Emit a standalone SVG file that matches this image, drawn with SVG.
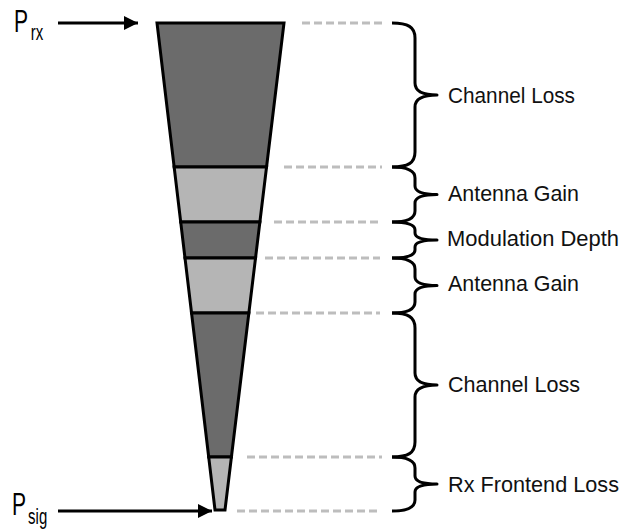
<svg xmlns="http://www.w3.org/2000/svg" width="626" height="531" viewBox="0 0 626 531">
<style>
.dark{fill:#6b6b6b;stroke:#000;stroke-width:3;stroke-linejoin:miter}
.light{fill:#b5b5b5;stroke:#000;stroke-width:3;stroke-linejoin:miter}
.dash{stroke:#bdbdbd;stroke-width:3;stroke-dasharray:8 4;fill:none}
.brace{stroke:#000;stroke-width:3;fill:none;stroke-linejoin:round}
.lbl{font-family:"Liberation Sans",Arial,sans-serif;font-size:22.5px;fill:#111}
.pw{font-family:"Liberation Sans",Arial,sans-serif;fill:#000;font-size:31px}
.sub{font-size:22px}
.arr{stroke:#000;stroke-width:3;fill:none}
</style>
<defs>
<marker id="ah" markerUnits="userSpaceOnUse" markerWidth="16" markerHeight="16" refX="14" refY="7" orient="auto">
<polygon points="0,0 14,7 0,14" fill="#000"/>
</marker>
</defs>
<g id="funnel">
<polygon class="dark" points="157,23 284,23 266.55,167 174.15,167"/>
<polygon class="light" points="174.15,167 266.55,167 259.89,222 180.7,222"/>
<polygon class="dark" points="180.7,222 259.89,222 255.53,258 184.99,258"/>
<polygon class="light" points="184.99,258 255.53,258 248.87,313 191.54,313"/>
<polygon class="dark" points="191.54,313 248.87,313 231.42,457 208.69,457"/>
<polygon class="light" points="208.69,457 231.42,457 225,510 215,510"/>
</g>
<g id="connectors">
<line class="arr" x1="58" y1="23" x2="138" y2="23" marker-end="url(#ah)"/>
<line class="arr" x1="58" y1="511" x2="212" y2="511" marker-end="url(#ah)"/>
<line class="dash" x1="302" y1="23" x2="384" y2="23"/>
<line class="dash" x1="284" y1="167" x2="382" y2="167"/>
<line class="dash" x1="274" y1="222" x2="380" y2="222"/>
<line class="dash" x1="265" y1="258" x2="380" y2="258"/>
<line class="dash" x1="256" y1="313" x2="380" y2="313"/>
<line class="dash" x1="247" y1="457" x2="382" y2="457"/>
<line class="dash" x1="237" y1="511" x2="380" y2="511"/>
</g>
<g id="braces">
<path class="brace" d="M392 23 C408 23 415 27 415 38 L415 83 C415 92 424 95 437 95 C424 95 415 98 415 107 L415 152 C415 163 408 167 392 167"/>
<path class="brace" d="M392 167 C406 167 415 170 415 178 L415 186 C415 192 424 194.5 437 194.5 C424 194.5 415 197 415 203 L415 211 C415 219 406 222 392 222"/>
<path class="brace" d="M392 222 C406 222 415 224 415 230 L415 233 C415 238 424 240 437 240 C424 240 415 242 415 247 L415 250 C415 256 406 258 392 258"/>
<path class="brace" d="M392 258 C406 258 415 261 415 269 L415 277 C415 283 424 285.5 437 285.5 C424 285.5 415 288 415 294 L415 302 C415 310 406 313 392 313"/>
<path class="brace" d="M392 313 C408 313 415 317 415 328 L415 373 C415 382 424 385 437 385 C424 385 415 388 415 397 L415 442 C415 453 408 457 392 457"/>
<path class="brace" d="M392 457 C406 457 415 460 415 468 L415 476 C415 482 424 484 437 484 C424 484 415 486 415 492 L415 500 C415 508 406 511 392 511"/>
</g>
<g id="labels">
<text class="lbl" x="448" y="103" textLength="127" lengthAdjust="spacingAndGlyphs">Channel Loss</text>
<text class="lbl" x="448" y="201" textLength="131" lengthAdjust="spacingAndGlyphs">Antenna Gain</text>
<text class="lbl" x="447" y="246" textLength="172" lengthAdjust="spacingAndGlyphs">Modulation Depth</text>
<text class="lbl" x="448" y="291" textLength="131" lengthAdjust="spacingAndGlyphs">Antenna Gain</text>
<text class="lbl" x="448" y="392" textLength="132" lengthAdjust="spacingAndGlyphs">Channel Loss</text>
<text class="lbl" x="448" y="492" textLength="171" lengthAdjust="spacingAndGlyphs">Rx Frontend Loss</text>
</g>
<g id="prx">
<text class="pw" transform="translate(14,32) scale(0.68,1)">P<tspan class="sub" dx="4" dy="8">rx</tspan></text>
</g>
<g id="psig">
<text class="pw" transform="translate(12,515) scale(0.68,1)">P<tspan class="sub" dx="3" dy="9">sig</tspan></text>
</g>
</svg>
